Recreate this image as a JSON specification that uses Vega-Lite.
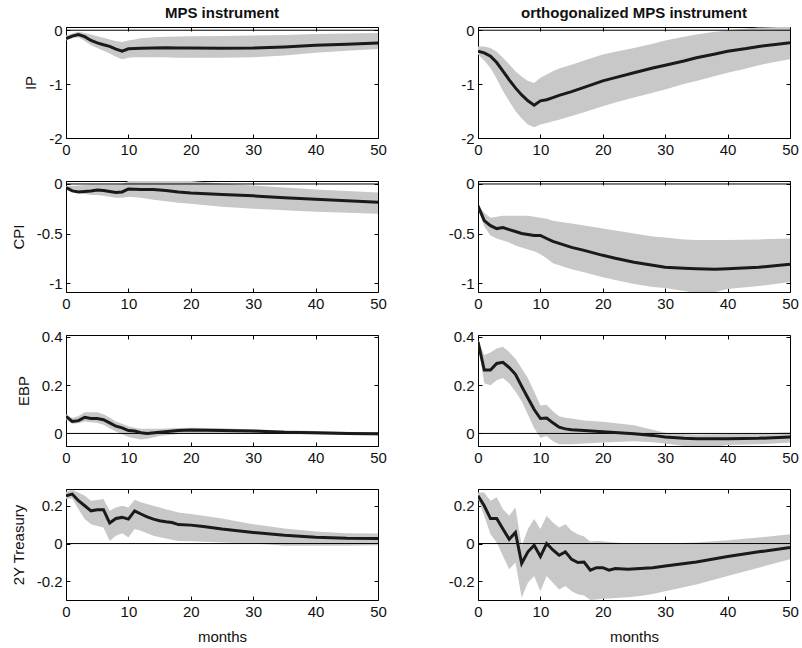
{
"$schema": "https://vega.github.io/schema/vega-lite/v6.json",
"padding": {"left": 10, "top": 5, "right": 5, "bottom": 5},
"background": "white",
"bounds": "flush",
"columns": 2,
"spacing": {"row": 43, "column": 100},
"datasets": {
"d": [
{"p":"ip1","m":0,"y":-0.155,"lo":-0.19,"hi":-0.1},
{"p":"ip1","m":1,"y":-0.11,"lo":-0.15,"hi":-0.06},
{"p":"ip1","m":2,"y":-0.08,"lo":-0.13,"hi":-0.03},
{"p":"ip1","m":3,"y":-0.12,"lo":-0.2,"hi":-0.05},
{"p":"ip1","m":4,"y":-0.19,"lo":-0.28,"hi":-0.08},
{"p":"ip1","m":5,"y":-0.235,"lo":-0.33,"hi":-0.11},
{"p":"ip1","m":6,"y":-0.27,"lo":-0.38,"hi":-0.14},
{"p":"ip1","m":7,"y":-0.3,"lo":-0.43,"hi":-0.17},
{"p":"ip1","m":8,"y":-0.35,"lo":-0.49,"hi":-0.2},
{"p":"ip1","m":9,"y":-0.39,"lo":-0.54,"hi":-0.22},
{"p":"ip1","m":10,"y":-0.345,"lo":-0.51,"hi":-0.19},
{"p":"ip1","m":11,"y":-0.34,"lo":-0.5,"hi":-0.17},
{"p":"ip1","m":12,"y":-0.335,"lo":-0.5,"hi":-0.15},
{"p":"ip1","m":14,"y":-0.33,"lo":-0.5,"hi":-0.13},
{"p":"ip1","m":16,"y":-0.325,"lo":-0.5,"hi":-0.12},
{"p":"ip1","m":18,"y":-0.33,"lo":-0.51,"hi":-0.115},
{"p":"ip1","m":20,"y":-0.33,"lo":-0.51,"hi":-0.11},
{"p":"ip1","m":25,"y":-0.335,"lo":-0.51,"hi":-0.105},
{"p":"ip1","m":30,"y":-0.33,"lo":-0.5,"hi":-0.1},
{"p":"ip1","m":35,"y":-0.31,"lo":-0.47,"hi":-0.09},
{"p":"ip1","m":40,"y":-0.28,"lo":-0.42,"hi":-0.07},
{"p":"ip1","m":45,"y":-0.26,"lo":-0.38,"hi":-0.06},
{"p":"ip1","m":50,"y":-0.235,"lo":-0.35,"hi":-0.05},
{"p":"ip2","m":0,"y":-0.39,"lo":-0.45,"hi":-0.3},
{"p":"ip2","m":1,"y":-0.42,"lo":-0.56,"hi":-0.3},
{"p":"ip2","m":2,"y":-0.48,"lo":-0.7,"hi":-0.33},
{"p":"ip2","m":3,"y":-0.6,"lo":-0.9,"hi":-0.4},
{"p":"ip2","m":4,"y":-0.76,"lo":-1.13,"hi":-0.51},
{"p":"ip2","m":5,"y":-0.92,"lo":-1.32,"hi":-0.63},
{"p":"ip2","m":6,"y":-1.07,"lo":-1.5,"hi":-0.76},
{"p":"ip2","m":7,"y":-1.2,"lo":-1.64,"hi":-0.86},
{"p":"ip2","m":8,"y":-1.31,"lo":-1.75,"hi":-0.94},
{"p":"ip2","m":9,"y":-1.39,"lo":-1.8,"hi":-0.98},
{"p":"ip2","m":10,"y":-1.31,"lo":-1.75,"hi":-0.88},
{"p":"ip2","m":11,"y":-1.29,"lo":-1.72,"hi":-0.82},
{"p":"ip2","m":12,"y":-1.25,"lo":-1.69,"hi":-0.76},
{"p":"ip2","m":13,"y":-1.21,"lo":-1.66,"hi":-0.71},
{"p":"ip2","m":15,"y":-1.14,"lo":-1.59,"hi":-0.64},
{"p":"ip2","m":17,"y":-1.06,"lo":-1.52,"hi":-0.56},
{"p":"ip2","m":20,"y":-0.94,"lo":-1.41,"hi":-0.45},
{"p":"ip2","m":22,"y":-0.88,"lo":-1.34,"hi":-0.4},
{"p":"ip2","m":25,"y":-0.79,"lo":-1.25,"hi":-0.33},
{"p":"ip2","m":28,"y":-0.7,"lo":-1.16,"hi":-0.25},
{"p":"ip2","m":30,"y":-0.65,"lo":-1.1,"hi":-0.19},
{"p":"ip2","m":33,"y":-0.57,"lo":-1.0,"hi":-0.12},
{"p":"ip2","m":35,"y":-0.51,"lo":-0.94,"hi":-0.08},
{"p":"ip2","m":38,"y":-0.44,"lo":-0.85,"hi":-0.03},
{"p":"ip2","m":40,"y":-0.39,"lo":-0.79,"hi":-0.006},
{"p":"ip2","m":43,"y":-0.34,"lo":-0.71,"hi":0.03},
{"p":"ip2","m":45,"y":-0.3,"lo":-0.65,"hi":0.05},
{"p":"ip2","m":48,"y":-0.26,"lo":-0.58,"hi":0.06},
{"p":"ip2","m":50,"y":-0.23,"lo":-0.54,"hi":0.06},
{"p":"cpi1","m":0,"y":-0.035,"lo":-0.045,"hi":-0.02},
{"p":"cpi1","m":1,"y":-0.07,"lo":-0.08,"hi":-0.02},
{"p":"cpi1","m":2,"y":-0.08,"lo":-0.09,"hi":-0.015},
{"p":"cpi1","m":3,"y":-0.075,"lo":-0.1,"hi":-0.01},
{"p":"cpi1","m":4,"y":-0.07,"lo":-0.11,"hi":-0.005},
{"p":"cpi1","m":5,"y":-0.06,"lo":-0.11,"hi":-0.005},
{"p":"cpi1","m":6,"y":-0.065,"lo":-0.12,"hi":-0.005},
{"p":"cpi1","m":7,"y":-0.075,"lo":-0.13,"hi":-0.005},
{"p":"cpi1","m":8,"y":-0.085,"lo":-0.14,"hi":-0.005},
{"p":"cpi1","m":9,"y":-0.08,"lo":-0.14,"hi":0.0},
{"p":"cpi1","m":10,"y":-0.05,"lo":-0.13,"hi":0.03},
{"p":"cpi1","m":12,"y":-0.055,"lo":-0.14,"hi":0.03},
{"p":"cpi1","m":14,"y":-0.055,"lo":-0.16,"hi":0.03},
{"p":"cpi1","m":16,"y":-0.065,"lo":-0.175,"hi":0.03},
{"p":"cpi1","m":18,"y":-0.08,"lo":-0.19,"hi":0.03},
{"p":"cpi1","m":20,"y":-0.09,"lo":-0.2,"hi":0.03},
{"p":"cpi1","m":25,"y":-0.105,"lo":-0.23,"hi":0.005},
{"p":"cpi1","m":30,"y":-0.12,"lo":-0.25,"hi":-0.015},
{"p":"cpi1","m":35,"y":-0.14,"lo":-0.265,"hi":-0.035},
{"p":"cpi1","m":40,"y":-0.155,"lo":-0.28,"hi":-0.055},
{"p":"cpi1","m":45,"y":-0.17,"lo":-0.29,"hi":-0.07},
{"p":"cpi1","m":50,"y":-0.185,"lo":-0.3,"hi":-0.085},
{"p":"cpi2","m":0,"y":-0.22,"lo":-0.25,"hi":-0.22},
{"p":"cpi2","m":1,"y":-0.37,"lo":-0.43,"hi":-0.29},
{"p":"cpi2","m":2,"y":-0.42,"lo":-0.52,"hi":-0.34},
{"p":"cpi2","m":3,"y":-0.45,"lo":-0.55,"hi":-0.33},
{"p":"cpi2","m":4,"y":-0.44,"lo":-0.57,"hi":-0.32},
{"p":"cpi2","m":5,"y":-0.46,"lo":-0.59,"hi":-0.32},
{"p":"cpi2","m":6,"y":-0.48,"lo":-0.62,"hi":-0.32},
{"p":"cpi2","m":7,"y":-0.5,"lo":-0.64,"hi":-0.32},
{"p":"cpi2","m":8,"y":-0.51,"lo":-0.66,"hi":-0.32},
{"p":"cpi2","m":9,"y":-0.52,"lo":-0.68,"hi":-0.33},
{"p":"cpi2","m":10,"y":-0.52,"lo":-0.71,"hi":-0.34},
{"p":"cpi2","m":11,"y":-0.55,"lo":-0.75,"hi":-0.35},
{"p":"cpi2","m":12,"y":-0.58,"lo":-0.8,"hi":-0.37},
{"p":"cpi2","m":13,"y":-0.6,"lo":-0.82,"hi":-0.38},
{"p":"cpi2","m":15,"y":-0.64,"lo":-0.86,"hi":-0.4},
{"p":"cpi2","m":17,"y":-0.67,"lo":-0.89,"hi":-0.42},
{"p":"cpi2","m":20,"y":-0.72,"lo":-0.94,"hi":-0.45},
{"p":"cpi2","m":22,"y":-0.75,"lo":-0.97,"hi":-0.47},
{"p":"cpi2","m":25,"y":-0.79,"lo":-1.01,"hi":-0.5},
{"p":"cpi2","m":28,"y":-0.82,"lo":-1.04,"hi":-0.53},
{"p":"cpi2","m":30,"y":-0.84,"lo":-1.05,"hi":-0.54},
{"p":"cpi2","m":33,"y":-0.85,"lo":-1.08,"hi":-0.56},
{"p":"cpi2","m":35,"y":-0.855,"lo":-1.1,"hi":-0.565},
{"p":"cpi2","m":38,"y":-0.86,"lo":-1.09,"hi":-0.565},
{"p":"cpi2","m":40,"y":-0.855,"lo":-1.06,"hi":-0.565},
{"p":"cpi2","m":45,"y":-0.84,"lo":-1.03,"hi":-0.56},
{"p":"cpi2","m":50,"y":-0.81,"lo":-0.99,"hi":-0.55},
{"p":"ebp1","m":0,"y":0.071,"lo":0.058,"hi":0.08},
{"p":"ebp1","m":1,"y":0.05,"lo":0.04,"hi":0.064},
{"p":"ebp1","m":2,"y":0.053,"lo":0.042,"hi":0.072},
{"p":"ebp1","m":3,"y":0.067,"lo":0.05,"hi":0.088},
{"p":"ebp1","m":4,"y":0.062,"lo":0.046,"hi":0.088},
{"p":"ebp1","m":5,"y":0.062,"lo":0.044,"hi":0.088},
{"p":"ebp1","m":6,"y":0.057,"lo":0.036,"hi":0.08},
{"p":"ebp1","m":7,"y":0.044,"lo":0.022,"hi":0.066},
{"p":"ebp1","m":8,"y":0.03,"lo":0.008,"hi":0.05},
{"p":"ebp1","m":9,"y":0.023,"lo":-0.003,"hi":0.04},
{"p":"ebp1","m":10,"y":0.012,"lo":-0.015,"hi":0.03},
{"p":"ebp1","m":11,"y":0.01,"lo":-0.02,"hi":0.024},
{"p":"ebp1","m":12,"y":0.003,"lo":-0.025,"hi":0.019},
{"p":"ebp1","m":13,"y":0.0,"lo":-0.022,"hi":0.019},
{"p":"ebp1","m":15,"y":0.005,"lo":-0.011,"hi":0.02},
{"p":"ebp1","m":18,"y":0.012,"lo":-0.002,"hi":0.023},
{"p":"ebp1","m":20,"y":0.014,"lo":0.0,"hi":0.024},
{"p":"ebp1","m":25,"y":0.012,"lo":0.0,"hi":0.022},
{"p":"ebp1","m":30,"y":0.01,"lo":0.0,"hi":0.016},
{"p":"ebp1","m":35,"y":0.005,"lo":-0.002,"hi":0.013},
{"p":"ebp1","m":40,"y":0.003,"lo":-0.004,"hi":0.01},
{"p":"ebp1","m":45,"y":0.0,"lo":-0.006,"hi":0.007},
{"p":"ebp1","m":50,"y":-0.001,"lo":-0.008,"hi":0.005},
{"p":"ebp2","m":0,"y":0.38,"lo":0.372,"hi":0.386},
{"p":"ebp2","m":1,"y":0.263,"lo":0.208,"hi":0.325},
{"p":"ebp2","m":2,"y":0.263,"lo":0.2,"hi":0.335},
{"p":"ebp2","m":3,"y":0.29,"lo":0.22,"hi":0.352},
{"p":"ebp2","m":4,"y":0.295,"lo":0.23,"hi":0.359},
{"p":"ebp2","m":5,"y":0.273,"lo":0.208,"hi":0.338},
{"p":"ebp2","m":6,"y":0.245,"lo":0.174,"hi":0.31},
{"p":"ebp2","m":7,"y":0.195,"lo":0.133,"hi":0.27},
{"p":"ebp2","m":8,"y":0.147,"lo":0.078,"hi":0.229},
{"p":"ebp2","m":9,"y":0.099,"lo":0.023,"hi":0.174},
{"p":"ebp2","m":10,"y":0.062,"lo":-0.018,"hi":0.116},
{"p":"ebp2","m":11,"y":0.064,"lo":-0.011,"hi":0.119},
{"p":"ebp2","m":12,"y":0.044,"lo":-0.032,"hi":0.092},
{"p":"ebp2","m":13,"y":0.026,"lo":-0.045,"hi":0.071},
{"p":"ebp2","m":14,"y":0.019,"lo":-0.045,"hi":0.065},
{"p":"ebp2","m":15,"y":0.015,"lo":-0.045,"hi":0.062},
{"p":"ebp2","m":17,"y":0.012,"lo":-0.042,"hi":0.054},
{"p":"ebp2","m":20,"y":0.007,"lo":-0.038,"hi":0.048},
{"p":"ebp2","m":25,"y":-0.001,"lo":-0.032,"hi":0.034},
{"p":"ebp2","m":28,"y":-0.008,"lo":-0.036,"hi":0.015},
{"p":"ebp2","m":30,"y":-0.015,"lo":-0.042,"hi":0.003},
{"p":"ebp2","m":33,"y":-0.02,"lo":-0.052,"hi":-0.002},
{"p":"ebp2","m":35,"y":-0.022,"lo":-0.06,"hi":-0.004},
{"p":"ebp2","m":38,"y":-0.022,"lo":-0.055,"hi":-0.003},
{"p":"ebp2","m":40,"y":-0.022,"lo":-0.048,"hi":-0.002},
{"p":"ebp2","m":45,"y":-0.02,"lo":-0.045,"hi":0.0},
{"p":"ebp2","m":50,"y":-0.015,"lo":-0.038,"hi":0.005},
{"p":"ty1","m":0,"y":0.254,"lo":0.237,"hi":0.276},
{"p":"ty1","m":1,"y":0.263,"lo":0.24,"hi":0.286},
{"p":"ty1","m":2,"y":0.228,"lo":0.183,"hi":0.272},
{"p":"ty1","m":3,"y":0.201,"lo":0.13,"hi":0.254},
{"p":"ty1","m":4,"y":0.174,"lo":0.103,"hi":0.228},
{"p":"ty1","m":5,"y":0.18,"lo":0.094,"hi":0.231},
{"p":"ty1","m":6,"y":0.18,"lo":0.085,"hi":0.237},
{"p":"ty1","m":7,"y":0.109,"lo":0.014,"hi":0.174},
{"p":"ty1","m":8,"y":0.133,"lo":0.041,"hi":0.192},
{"p":"ty1","m":9,"y":0.139,"lo":0.055,"hi":0.201},
{"p":"ty1","m":10,"y":0.13,"lo":0.032,"hi":0.192},
{"p":"ty1","m":11,"y":0.174,"lo":0.077,"hi":0.233},
{"p":"ty1","m":12,"y":0.157,"lo":0.068,"hi":0.219},
{"p":"ty1","m":13,"y":0.142,"lo":0.055,"hi":0.21},
{"p":"ty1","m":14,"y":0.13,"lo":0.041,"hi":0.201},
{"p":"ty1","m":15,"y":0.121,"lo":0.034,"hi":0.192},
{"p":"ty1","m":16,"y":0.116,"lo":0.027,"hi":0.183},
{"p":"ty1","m":17,"y":0.112,"lo":0.02,"hi":0.174},
{"p":"ty1","m":18,"y":0.101,"lo":0.014,"hi":0.165},
{"p":"ty1","m":20,"y":0.098,"lo":0.012,"hi":0.157},
{"p":"ty1","m":22,"y":0.091,"lo":0.01,"hi":0.148},
{"p":"ty1","m":25,"y":0.077,"lo":0.005,"hi":0.133},
{"p":"ty1","m":30,"y":0.059,"lo":0.0,"hi":0.103},
{"p":"ty1","m":35,"y":0.044,"lo":-0.012,"hi":0.08},
{"p":"ty1","m":40,"y":0.034,"lo":-0.012,"hi":0.064},
{"p":"ty1","m":45,"y":0.028,"lo":-0.012,"hi":0.055},
{"p":"ty1","m":50,"y":0.027,"lo":-0.009,"hi":0.053},
{"p":"ty2","m":0,"y":0.254,"lo":0.237,"hi":0.272},
{"p":"ty2","m":1,"y":0.201,"lo":0.148,"hi":0.272},
{"p":"ty2","m":2,"y":0.133,"lo":0.05,"hi":0.228},
{"p":"ty2","m":3,"y":0.133,"lo":0.005,"hi":0.246},
{"p":"ty2","m":4,"y":0.077,"lo":-0.066,"hi":0.183},
{"p":"ty2","m":5,"y":0.023,"lo":-0.137,"hi":0.148},
{"p":"ty2","m":6,"y":0.059,"lo":-0.101,"hi":0.192},
{"p":"ty2","m":7,"y":-0.105,"lo":-0.288,"hi":-0.012},
{"p":"ty2","m":8,"y":-0.044,"lo":-0.208,"hi":0.077},
{"p":"ty2","m":9,"y":-0.009,"lo":-0.173,"hi":0.13},
{"p":"ty2","m":10,"y":-0.069,"lo":-0.253,"hi":0.077},
{"p":"ty2","m":11,"y":0.0,"lo":-0.173,"hi":0.148},
{"p":"ty2","m":12,"y":-0.034,"lo":-0.208,"hi":0.112},
{"p":"ty2","m":13,"y":-0.062,"lo":-0.244,"hi":0.085},
{"p":"ty2","m":14,"y":-0.044,"lo":-0.226,"hi":0.103},
{"p":"ty2","m":15,"y":-0.084,"lo":-0.253,"hi":0.068},
{"p":"ty2","m":16,"y":-0.101,"lo":-0.27,"hi":0.05},
{"p":"ty2","m":17,"y":-0.098,"lo":-0.276,"hi":0.037},
{"p":"ty2","m":18,"y":-0.141,"lo":-0.3,"hi":0.011},
{"p":"ty2","m":19,"y":-0.128,"lo":-0.297,"hi":0.014},
{"p":"ty2","m":20,"y":-0.128,"lo":-0.294,"hi":0.012},
{"p":"ty2","m":21,"y":-0.141,"lo":-0.292,"hi":0.008},
{"p":"ty2","m":22,"y":-0.133,"lo":-0.29,"hi":0.005},
{"p":"ty2","m":24,"y":-0.137,"lo":-0.285,"hi":0.002},
{"p":"ty2","m":26,"y":-0.133,"lo":-0.279,"hi":0.0},
{"p":"ty2","m":28,"y":-0.128,"lo":-0.268,"hi":0.0},
{"p":"ty2","m":30,"y":-0.119,"lo":-0.253,"hi":0.0},
{"p":"ty2","m":35,"y":-0.098,"lo":-0.217,"hi":0.005},
{"p":"ty2","m":40,"y":-0.069,"lo":-0.173,"hi":0.018},
{"p":"ty2","m":45,"y":-0.044,"lo":-0.128,"hi":0.032},
{"p":"ty2","m":50,"y":-0.021,"lo":-0.084,"hi":0.05}
],
"zero": [{"z": 0}]
},
"concat": [
{"width":312,"height":111,"data":{"name":"d"},"transform":[{"filter":"datum.p === 'ip1'"}],
 "title":{"text":"MPS instrument"},
 "layer":[
  {"mark":{"type":"area","color":"#c8c8c8","clip":true},"encoding":{
    "x":{"field":"m","type":"quantitative","scale":{"domain":[0,50],"nice":false,"zero":false},"axis":{"orient":"bottom","values":[0,10,20,30,40,50],"title":null}},
    "y":{"field":"lo","type":"quantitative","scale":{"domain":[-2,0.06],"nice":false,"zero":false},"axis":{"orient":"left","values":[-2,-1,0],"title":"IP"}},
    "y2":{"field":"hi"}}},
  {"data":{"name":"zero"},"mark":{"type":"rule","color":"#000","strokeWidth":1},"encoding":{
    "y":{"field":"z","type":"quantitative","scale":{"domain":[-2,0.06],"nice":false,"zero":false},"axis":null}}},
  {"mark":{"type":"line","color":"#1a1a1a","strokeWidth":3,"clip":true},"encoding":{
    "x":{"field":"m","type":"quantitative","scale":{"domain":[0,50],"nice":false,"zero":false},"axis":{"orient":"top","values":[0,10,20,30,40,50],"labels":false,"title":null}},
    "y":{"field":"y","type":"quantitative","scale":{"domain":[-2,0.06],"nice":false,"zero":false},"axis":{"orient":"right","values":[-2,-1,0],"labels":false,"title":null}}}}
 ]},
{"width":312,"height":111,"data":{"name":"d"},"transform":[{"filter":"datum.p === 'ip2'"}],
 "title":{"text":"orthogonalized MPS instrument"},
 "layer":[
  {"mark":{"type":"area","color":"#c8c8c8","clip":true},"encoding":{
    "x":{"field":"m","type":"quantitative","scale":{"domain":[0,50],"nice":false,"zero":false},"axis":{"orient":"bottom","values":[0,10,20,30,40,50],"title":null}},
    "y":{"field":"lo","type":"quantitative","scale":{"domain":[-2,0.06],"nice":false,"zero":false},"axis":{"orient":"left","values":[-2,-1,0],"title":null}},
    "y2":{"field":"hi"}}},
  {"data":{"name":"zero"},"mark":{"type":"rule","color":"#000","strokeWidth":1},"encoding":{
    "y":{"field":"z","type":"quantitative","scale":{"domain":[-2,0.06],"nice":false,"zero":false},"axis":null}}},
  {"mark":{"type":"line","color":"#1a1a1a","strokeWidth":3,"clip":true},"encoding":{
    "x":{"field":"m","type":"quantitative","scale":{"domain":[0,50],"nice":false,"zero":false},"axis":{"orient":"top","values":[0,10,20,30,40,50],"labels":false,"title":null}},
    "y":{"field":"y","type":"quantitative","scale":{"domain":[-2,0.06],"nice":false,"zero":false},"axis":{"orient":"right","values":[-2,-1,0],"labels":false,"title":null}}}}
 ]},
{"width":312,"height":111,"data":{"name":"d"},"transform":[{"filter":"datum.p === 'cpi1'"}],
 "layer":[
  {"mark":{"type":"area","color":"#c8c8c8","clip":true},"encoding":{
    "x":{"field":"m","type":"quantitative","scale":{"domain":[0,50],"nice":false,"zero":false},"axis":{"orient":"bottom","values":[0,10,20,30,40,50],"title":null}},
    "y":{"field":"lo","type":"quantitative","scale":{"domain":[-1.09,0.03],"nice":false,"zero":false},"axis":{"orient":"left","values":[-1,-0.5,0],"title":"CPI"}},
    "y2":{"field":"hi"}}},
  {"data":{"name":"zero"},"mark":{"type":"rule","color":"#000","strokeWidth":1},"encoding":{
    "y":{"field":"z","type":"quantitative","scale":{"domain":[-1.09,0.03],"nice":false,"zero":false},"axis":null}}},
  {"mark":{"type":"line","color":"#1a1a1a","strokeWidth":3,"clip":true},"encoding":{
    "x":{"field":"m","type":"quantitative","scale":{"domain":[0,50],"nice":false,"zero":false},"axis":{"orient":"top","values":[0,10,20,30,40,50],"labels":false,"title":null}},
    "y":{"field":"y","type":"quantitative","scale":{"domain":[-1.09,0.03],"nice":false,"zero":false},"axis":{"orient":"right","values":[-1,-0.5,0],"labels":false,"title":null}}}}
 ]},
{"width":312,"height":111,"data":{"name":"d"},"transform":[{"filter":"datum.p === 'cpi2'"}],
 "layer":[
  {"mark":{"type":"area","color":"#c8c8c8","clip":true},"encoding":{
    "x":{"field":"m","type":"quantitative","scale":{"domain":[0,50],"nice":false,"zero":false},"axis":{"orient":"bottom","values":[0,10,20,30,40,50],"title":null}},
    "y":{"field":"lo","type":"quantitative","scale":{"domain":[-1.09,0.03],"nice":false,"zero":false},"axis":{"orient":"left","values":[-1,-0.5,0],"title":null}},
    "y2":{"field":"hi"}}},
  {"data":{"name":"zero"},"mark":{"type":"rule","color":"#000","strokeWidth":1},"encoding":{
    "y":{"field":"z","type":"quantitative","scale":{"domain":[-1.09,0.03],"nice":false,"zero":false},"axis":null}}},
  {"mark":{"type":"line","color":"#1a1a1a","strokeWidth":3,"clip":true},"encoding":{
    "x":{"field":"m","type":"quantitative","scale":{"domain":[0,50],"nice":false,"zero":false},"axis":{"orient":"top","values":[0,10,20,30,40,50],"labels":false,"title":null}},
    "y":{"field":"y","type":"quantitative","scale":{"domain":[-1.09,0.03],"nice":false,"zero":false},"axis":{"orient":"right","values":[-1,-0.5,0],"labels":false,"title":null}}}}
 ]},
{"width":312,"height":111,"data":{"name":"d"},"transform":[{"filter":"datum.p === 'ebp1'"}],
 "layer":[
  {"mark":{"type":"area","color":"#c8c8c8","clip":true},"encoding":{
    "x":{"field":"m","type":"quantitative","scale":{"domain":[0,50],"nice":false,"zero":false},"axis":{"orient":"bottom","values":[0,10,20,30,40,50],"title":null}},
    "y":{"field":"lo","type":"quantitative","scale":{"domain":[-0.052,0.408],"nice":false,"zero":false},"axis":{"orient":"left","values":[0,0.2,0.4],"title":"EBP"}},
    "y2":{"field":"hi"}}},
  {"data":{"name":"zero"},"mark":{"type":"rule","color":"#000","strokeWidth":1},"encoding":{
    "y":{"field":"z","type":"quantitative","scale":{"domain":[-0.052,0.408],"nice":false,"zero":false},"axis":null}}},
  {"mark":{"type":"line","color":"#1a1a1a","strokeWidth":3,"clip":true},"encoding":{
    "x":{"field":"m","type":"quantitative","scale":{"domain":[0,50],"nice":false,"zero":false},"axis":{"orient":"top","values":[0,10,20,30,40,50],"labels":false,"title":null}},
    "y":{"field":"y","type":"quantitative","scale":{"domain":[-0.052,0.408],"nice":false,"zero":false},"axis":{"orient":"right","values":[0,0.2,0.4],"labels":false,"title":null}}}}
 ]},
{"width":312,"height":111,"data":{"name":"d"},"transform":[{"filter":"datum.p === 'ebp2'"}],
 "layer":[
  {"mark":{"type":"area","color":"#c8c8c8","clip":true},"encoding":{
    "x":{"field":"m","type":"quantitative","scale":{"domain":[0,50],"nice":false,"zero":false},"axis":{"orient":"bottom","values":[0,10,20,30,40,50],"title":null}},
    "y":{"field":"lo","type":"quantitative","scale":{"domain":[-0.052,0.408],"nice":false,"zero":false},"axis":{"orient":"left","values":[0,0.2,0.4],"title":null}},
    "y2":{"field":"hi"}}},
  {"data":{"name":"zero"},"mark":{"type":"rule","color":"#000","strokeWidth":1},"encoding":{
    "y":{"field":"z","type":"quantitative","scale":{"domain":[-0.052,0.408],"nice":false,"zero":false},"axis":null}}},
  {"mark":{"type":"line","color":"#1a1a1a","strokeWidth":3,"clip":true},"encoding":{
    "x":{"field":"m","type":"quantitative","scale":{"domain":[0,50],"nice":false,"zero":false},"axis":{"orient":"top","values":[0,10,20,30,40,50],"labels":false,"title":null}},
    "y":{"field":"y","type":"quantitative","scale":{"domain":[-0.052,0.408],"nice":false,"zero":false},"axis":{"orient":"right","values":[0,0.2,0.4],"labels":false,"title":null}}}}
 ]},
{"width":312,"height":111,"data":{"name":"d"},"transform":[{"filter":"datum.p === 'ty1'"}],
 "layer":[
  {"mark":{"type":"area","color":"#c8c8c8","clip":true},"encoding":{
    "x":{"field":"m","type":"quantitative","scale":{"domain":[0,50],"nice":false,"zero":false},"axis":{"orient":"bottom","values":[0,10,20,30,40,50],"title":"months"}},
    "y":{"field":"lo","type":"quantitative","scale":{"domain":[-0.3,0.29],"nice":false,"zero":false},"axis":{"orient":"left","values":[-0.2,0,0.2],"title":"2Y Treasury"}},
    "y2":{"field":"hi"}}},
  {"data":{"name":"zero"},"mark":{"type":"rule","color":"#000","strokeWidth":1},"encoding":{
    "y":{"field":"z","type":"quantitative","scale":{"domain":[-0.3,0.29],"nice":false,"zero":false},"axis":null}}},
  {"mark":{"type":"line","color":"#1a1a1a","strokeWidth":3,"clip":true},"encoding":{
    "x":{"field":"m","type":"quantitative","scale":{"domain":[0,50],"nice":false,"zero":false},"axis":{"orient":"top","values":[0,10,20,30,40,50],"labels":false,"title":null}},
    "y":{"field":"y","type":"quantitative","scale":{"domain":[-0.3,0.29],"nice":false,"zero":false},"axis":{"orient":"right","values":[-0.2,0,0.2],"labels":false,"title":null}}}}
 ]},
{"width":312,"height":111,"data":{"name":"d"},"transform":[{"filter":"datum.p === 'ty2'"}],
 "layer":[
  {"mark":{"type":"area","color":"#c8c8c8","clip":true},"encoding":{
    "x":{"field":"m","type":"quantitative","scale":{"domain":[0,50],"nice":false,"zero":false},"axis":{"orient":"bottom","values":[0,10,20,30,40,50],"title":"months"}},
    "y":{"field":"lo","type":"quantitative","scale":{"domain":[-0.3,0.29],"nice":false,"zero":false},"axis":{"orient":"left","values":[-0.2,0,0.2],"title":null}},
    "y2":{"field":"hi"}}},
  {"data":{"name":"zero"},"mark":{"type":"rule","color":"#000","strokeWidth":1},"encoding":{
    "y":{"field":"z","type":"quantitative","scale":{"domain":[-0.3,0.29],"nice":false,"zero":false},"axis":null}}},
  {"mark":{"type":"line","color":"#1a1a1a","strokeWidth":3,"clip":true},"encoding":{
    "x":{"field":"m","type":"quantitative","scale":{"domain":[0,50],"nice":false,"zero":false},"axis":{"orient":"top","values":[0,10,20,30,40,50],"labels":false,"title":null}},
    "y":{"field":"y","type":"quantitative","scale":{"domain":[-0.3,0.29],"nice":false,"zero":false},"axis":{"orient":"right","values":[-0.2,0,0.2],"labels":false,"title":null}}}}
 ]}
],
"config": {
  "font": "Liberation Sans",
  "view": {"stroke": "#000", "strokeWidth": 1},
  "axis": {"grid": false, "domain": false, "tickSize": -4, "tickColor": "#000", "tickWidth": 1,
           "labelFontSize": 15, "labelColor": "#111", "labelPadding": 8,
           "labelExpr": "replace(format(datum.value, '~g'), '\u2212', '-')",
           "titleFontSize": 15, "titleFontWeight": "normal", "titleColor": "#111", "titlePadding": 10},
  "axisX": {"labelFlush": false},
  "title": {"fontSize": 15, "fontWeight": "bold", "color": "#111", "anchor": "middle", "offset": 2}
}
}
